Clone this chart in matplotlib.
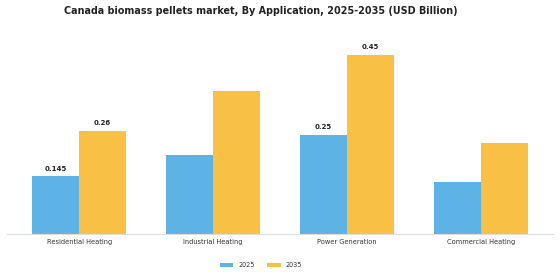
import matplotlib
matplotlib.use("Agg")
import matplotlib.pyplot as plt
import numpy as np

# ------- Data -------
categories = ["Residential Heating", "Industrial Heating", "Power Generation", "Commercial Heating"]
years = ["2025", "2035"]
values_2025 = [0.145, 0.20, 0.25, 0.13]
values_2035 = [0.26, 0.36, 0.45, 0.23]
labels_2025 = ["0.145", "", "0.25", ""]
labels_2035 = ["0.26", "", "0.45", ""]

c2025 = "#5DB3E6"
c2035 = "#F8C146"

fig = plt.figure(figsize=(5.6, 2.8), dpi=100)
ax = fig.add_axes([0.0125, 0.163, 0.975, 0.713])

x = np.arange(len(categories))
w = 0.35
b1 = ax.bar(x - w / 2, values_2025, w, color=c2025, label=years[0])
b2 = ax.bar(x + w / 2, values_2035, w, color=c2035, label=years[1])

for bars, labs in ((b1, labels_2025), (b2, labels_2035)):
    for bar, lab in zip(bars, labs):
        if lab:
            ax.text(bar.get_x() + bar.get_width() / 2, bar.get_height() + 0.012, lab,
                    ha="center", va="bottom", fontsize=5, fontweight="bold", color="#222222")

ax.set_xlim(-0.54, 3.54)
ax.set_ylim(0, 0.5)
ax.set_xticks(x)
ax.set_xticklabels(categories, fontsize=4.8, color="#333333")
ax.tick_params(axis="x", length=0, pad=3.5)
ax.set_yticks([])
for s in ("top", "right", "left"):
    ax.spines[s].set_visible(False)
ax.spines["bottom"].set_color("#dddddd")
ax.spines["bottom"].set_linewidth(0.8)

fig.suptitle("Canada biomass pellets market, By Application, 2025-2035 (USD Billion)",
             fontsize=6.9, fontweight="bold", color="#222222", x=0.465, y=0.96, va="center")

fig.legend(handles=[b1, b2], labels=years, loc="center", bbox_to_anchor=(0.466, 0.053),
           ncol=2, frameon=False, fontsize=4.7, handlelength=2.0, handleheight=0.55,
           handletextpad=0.8, columnspacing=2.0, labelcolor="#333333")

fig.savefig("out.png", dpi=100)
